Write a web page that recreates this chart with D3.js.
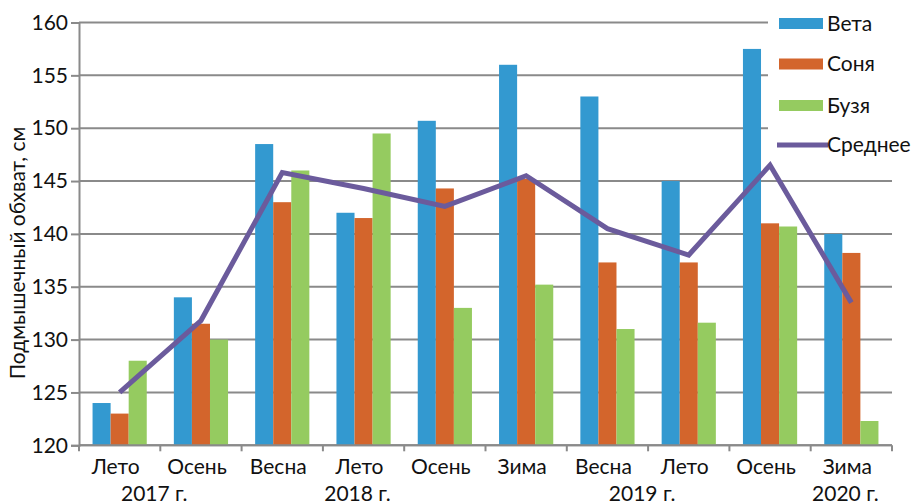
<!DOCTYPE html>
<html><head><meta charset="utf-8">
<script src="https://cdn.jsdelivr.net/npm/d3@7"></script>
<style>
html,body{margin:0;padding:0;background:#fff;}
text{font-family:Lato,"Open Sans","Noto Sans",sans-serif;fill:#111;}
</style></head>
<body><svg id="c" width="913" height="504"></svg>
<script>
const categories = ["Лето","Осень","Весна","Лето","Осень","Зима","Весна","Лето","Осень","Зима"];
const yearLabels = ["2017 г.","2018 г.","2019 г.","2020 г."];
const yearSpans = [[0,1],[3,3],[6,7],[9,9]];
const seriesNames = ["Вета","Соня","Бузя"];
const veta = [124, 134, 148.5, 142, 150.7, 156, 153, 145, 157.5, 140];
const sonya = [123, 131.5, 143, 141.5, 144.3, 145.2, 137.3, 137.3, 141, 138.2];
const buzya = [128, 130, 146, 149.5, 133, 135.2, 131, 131.6, 140.7, 122.3];
const average = [125, 131.8, 145.8, 144.3, 142.6, 145.5, 140.5, 138, 146.5, 133.5];
const averageName = "Среднее";
const yTicks = [120,125,130,135,140,145,150,155,160];
const yTitle = "Подмышечный обхват, см";

const colors = ["#3399d0","#d3652c","#95cb60"];
const lineColor = "#6b5b9c";
const gridColor = "#8a8a8a";
const FS = 21;

const svg = d3.select("#c");
const L = 79, R = 892, T = 22.5, B = 445.3;
const idx = d3.range(categories.length);
const x = d3.scaleBand().domain(idx).range([L, R]).paddingInner(1/3).paddingOuter(1/6);
const x1 = d3.scaleBand().domain(d3.range(seriesNames.length)).range([0, x.bandwidth()]);
const y = d3.scaleLinear().domain([120,160]).range([B, T]);
const step = x.step();

// gridlines
svg.append("g").selectAll("line").data(yTicks).join("line")
  .attr("x1", L).attr("x2", R)
  .attr("y1", d => y(d)).attr("y2", d => y(d))
  .attr("stroke", gridColor).attr("stroke-width", 2);

// bars
const seriesVals = [veta, sonya, buzya];
seriesVals.forEach((vals, s) => {
  svg.append("g").selectAll("rect").data(vals).join("rect")
    .attr("x", (d,i) => x(i) + x1(s))
    .attr("width", x1.bandwidth())
    .attr("y", d => y(d))
    .attr("height", d => y(120) - y(d))
    .attr("fill", colors[s]);
});

// average line
const line = d3.line().x((d,i) => x(i) + x.bandwidth()/2).y(d => y(d));
svg.append("path").datum(average).attr("d", line)
  .attr("fill","none").attr("stroke", lineColor).attr("stroke-width", 5)
  .attr("stroke-linejoin","miter");

// axes
const yAxis = d3.axisLeft(y).tickValues(yTicks).tickSize(8).tickPadding(3).tickFormat(d3.format("d"));
const gy = svg.append("g").attr("transform", `translate(${L},0)`).call(yAxis);
gy.select(".domain").attr("stroke", gridColor).attr("stroke-width", 2);
gy.selectAll(".tick line").attr("stroke", gridColor).attr("stroke-width", 2);
gy.selectAll(".tick text").attr("font-size", FS).attr("fill","#111")
  .style("font-family", 'Lato,"Open Sans",sans-serif');

// x axis line and boundary ticks
svg.append("line").attr("x1", L).attr("x2", R).attr("y1", B).attr("y2", B)
  .attr("stroke", gridColor).attr("stroke-width", 2);
const bounds = d3.range(categories.length + 1).map(i => L + i * step);
svg.append("g").selectAll("line").data(bounds).join("line")
  .attr("x1", d => d).attr("x2", d => d).attr("y1", B).attr("y2", B + 6)
  .attr("stroke", gridColor).attr("stroke-width", 2);

// category labels
svg.append("g").selectAll("text").data(categories).join("text")
  .attr("x", (d,i) => x(i) + x.bandwidth()/2 - 4)
  .attr("y", 474).attr("text-anchor","middle").attr("font-size", FS)
  .text(d => d);
svg.append("g").selectAll("text").data(yearLabels).join("text")
  .attr("x", (d,i) => (x(yearSpans[i][0]) + x(yearSpans[i][1]))/2 + x.bandwidth()/2 - 6)
  .attr("y", 501).attr("text-anchor","middle").attr("font-size", FS)
  .text(d => d);

// y title
svg.append("text").attr("transform", "translate(25,253) rotate(-90)")
  .attr("text-anchor","middle").attr("font-size", FS).text(yTitle);

// legend
const lg = svg.append("g");
lg.append("rect").attr("x", 768).attr("y", 2).attr("width", 145).attr("height", 152).attr("fill","#fff");
const rowY = [23.5, 64, 105.5, 145];
seriesNames.forEach((n, s) => {
  lg.append("rect").attr("x", 779).attr("y", rowY[s] - 5.5).attr("width", 44).attr("height", 11).attr("fill", colors[s]);
  lg.append("text").attr("x", 827).attr("y", rowY[s] + 7).attr("font-size", FS).text(n);
});
lg.append("line").attr("x1", 777).attr("x2", 828).attr("y1", rowY[3]).attr("y2", rowY[3])
  .attr("stroke", lineColor).attr("stroke-width", 5);
lg.append("text").attr("x", 827).attr("y", rowY[3] + 7).attr("font-size", FS).text(averageName);
</script></body></html>
